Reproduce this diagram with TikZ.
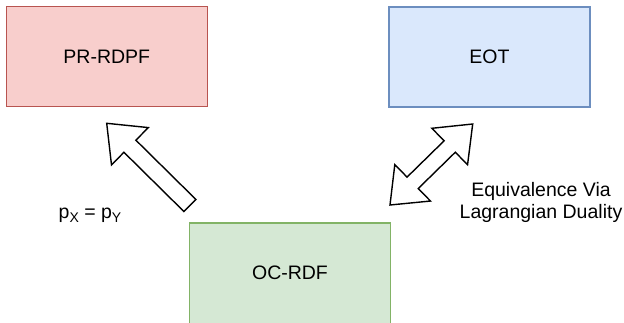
\documentclass[tikz,border=0pt]{standalone}
\usepackage{fontspec}
\setmainfont{Liberation Sans}
\usetikzlibrary{calc}

\definecolor{redfill}{HTML}{F8CECC}
\definecolor{redline}{HTML}{B85450}
\definecolor{bluefill}{HTML}{DAE8FC}
\definecolor{blueline}{HTML}{6C8EBF}
\definecolor{greenfill}{HTML}{D5E8D4}
\definecolor{greenline}{HTML}{82B366}

\tikzset{
  box/.style={rectangle, minimum width=201pt, minimum height=100pt, inner sep=0pt,
    line width=1.5pt, font=\fontsize{19.5}{23}\selectfont},
  redbox/.style={box, fill=redfill, draw=redline},
  bluebox/.style={box, fill=bluefill, draw=blueline},
  greenbox/.style={box, fill=greenfill, draw=greenline},
  blockarrow/.style={draw=black, line width=1.4pt, fill=white, line join=miter},
  label/.style={inner sep=0pt, font=\fontsize{19.5}{21.5}\selectfont}
}

\begin{document}
\begin{tikzpicture}[x=1pt, y=1pt]
  \useasboundingbox (0,0) rectangle (624,322);

  % the three problem boxes (the lower one runs past the bottom edge)
  \node[redbox]   (prrdpf) at (106.8,265.4) {PR-RDPF};
  \node[bluebox]  (eot)    at (489.5,265.0) {EOT};
  \node[greenbox, minimum height=104pt] (ocrdf) at (290.0,47.0) {};
  \node[font=\fontsize{19.5}{23}\selectfont, inner sep=0pt] (octext) at (290.0,49.0) {OC-RDF};

  % end points of the two block arrows
  \coordinate (ltail) at (189.9,116.5);
  \coordinate (ltip)  at (106.7,198.7);
  \coordinate (dlow)  at (390.0,117.0);
  \coordinate (dhigh) at (472.7,198.0);

  % single block arrow: shaft half width 8.5, head half width 26.2, head length 32.5
  \draw[blockarrow] let \p1=($(ltip)-(ltail)$), \n1={atan2(\y1,\x1)}, \n2={veclen(\x1,\y1)} in
    ($(ltail)+(\n1+90:8.5)$)
    -- ($(ltail)+(\n1:\n2-32.5)+(\n1+90:8.5)$)
    -- ($(ltail)+(\n1:\n2-32.5)+(\n1+90:26.2)$)
    -- (ltip)
    -- ($(ltail)+(\n1:\n2-32.5)+(\n1-90:26.2)$)
    -- ($(ltail)+(\n1:\n2-32.5)+(\n1-90:8.5)$)
    -- ($(ltail)+(\n1-90:8.5)$)
    -- cycle;

  % double block arrow
  \draw[blockarrow] let \p1=($(dhigh)-(dlow)$), \n1={atan2(\y1,\x1)}, \n2={veclen(\x1,\y1)} in
    (dlow)
    -- ($(dlow)+(\n1:31.7)+(\n1+90:25.5)$)
    -- ($(dlow)+(\n1:31.7)+(\n1+90:8)$)
    -- ($(dlow)+(\n1:\n2-31.7)+(\n1+90:8)$)
    -- ($(dlow)+(\n1:\n2-31.7)+(\n1+90:25.5)$)
    -- (dhigh)
    -- ($(dlow)+(\n1:\n2-31.7)+(\n1-90:25.5)$)
    -- ($(dlow)+(\n1:\n2-31.7)+(\n1-90:8)$)
    -- ($(dlow)+(\n1:31.7)+(\n1-90:8)$)
    -- ($(dlow)+(\n1:31.7)+(\n1-90:25.5)$)
    -- cycle;

  % labels
  \node[label, anchor=base] (cond) at (90,103.7)
    {p\raisebox{-4.4pt}{\fontsize{14}{14}\selectfont X} = p\raisebox{-4.4pt}{\fontsize{14}{14}\selectfont Y}};
  \node[label, align=center] (dual) at (541,119.7) {Equivalence Via\\Lagrangian Duality};
\end{tikzpicture}
\end{document}
